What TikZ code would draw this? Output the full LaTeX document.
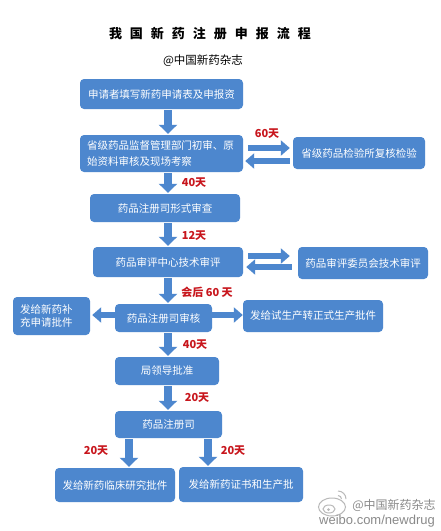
\documentclass[tikz,border=0pt]{standalone}
\usepackage{fontspec}
\newfontfamily\cjk{Noto Sans CJK SC}
\newfontfamily\wbfont{Liberation Sans}
\usetikzlibrary{arrows.meta}
\definecolor{boxblue}{HTML}{4D87CE}
\definecolor{lblred}{HTML}{C8161D}
\definecolor{wmgray}{HTML}{8A8A8A}
\tikzset{
  box/.style={fill=boxblue, rounded corners=4pt, text=white, inner sep=0pt, align=center,
    font=\cjk\fontsize{10.5}{13}\selectfont},
  lbl/.style={text=lblred, inner sep=0pt, font=\cjk\bfseries\fontsize{11}{13}\selectfont},
  vbar/.style={draw=boxblue, line width=8pt, -{Triangle[length=9pt,width=18pt]}, shorten <=1pt, shorten >=1pt},
  hbar/.style={draw=boxblue, line width=6pt, -{Triangle[length=9pt,width=15pt]}},
}
\begin{document}
\begin{tikzpicture}[x=1pt,y=-1pt]
\useasboundingbox (0,0) rectangle (440,531);
\fill[white] (0,0) rectangle (440,531);

% title
\node[font=\cjk\bfseries\fontsize{13}{15}\selectfont, inner sep=0pt] (title) at (210,34)
  {我\hspace{8pt}国\hspace{8pt}新\hspace{8pt}药\hspace{8pt}注\hspace{8pt}册\hspace{8pt}申\hspace{8pt}报\hspace{8pt}流\hspace{8pt}程};
\node[font=\cjk\fontsize{11.5}{13}\selectfont, inner sep=0pt] (sub) at (203,61) {@中国新药杂志};

% boxes
\node[box, minimum width=163pt, minimum height=30pt] (b1) at (161.5,94) {申请者填写新药申请表及申报资};
\node[box, minimum width=163pt, minimum height=37pt, text width=149pt, align=left,
  font=\cjk\fontsize{10.5}{15.5}\selectfont] (b2) at (161.5,153.5) {省级药品监督管理部门初审、原\\始资料审核及现场考察};
\node[box, minimum width=132pt, minimum height=32pt] (r1) at (359,153) {省级药品检验所复核检验};
\node[box, minimum width=150pt, minimum height=28pt] (b3) at (165,208) {药品注册司形式审查};
\node[box, minimum width=150pt, minimum height=30pt] (b4) at (168,262) {药品审评中心技术审评};
\node[box, minimum width=130pt, minimum height=32pt] (r2) at (363,263) {药品审评委员会技术审评};
\node[box, minimum width=97pt, minimum height=28pt] (b5) at (163.5,318) {药品注册司审核};
\node[box, minimum width=77pt, minimum height=38pt, text width=63pt, align=left,
  font=\cjk\fontsize{10.5}{13.5}\selectfont] (l1) at (51.5,316) {发给新药补\\充申请批件};
\node[box, minimum width=140pt, minimum height=32pt] (r3) at (313,316) {发给试生产转正式生产批件};
\node[box, minimum width=104pt, minimum height=28pt] (b6) at (167,371) {局领导批准};
\node[box, minimum width=107pt, minimum height=27pt] (b7) at (168.5,424.5) {药品注册司};
\node[box, minimum width=120pt, minimum height=34pt] (b8) at (115,485) {发给新药临床研究批件};
\node[box, minimum width=124pt, minimum height=35pt] (b9) at (241,484.5) {发给新药证书和生产批};

% arrow guide coordinates
\coordinate (ax) at (168,0);
\coordinate (axl) at (129,0);
\coordinate (axr) at (208,0);
\coordinate (ya) at (0,148);
\coordinate (yb) at (0,161);
\coordinate (yc) at (0,256);
\coordinate (yd) at (0,267);
\coordinate (ye) at (0,315);

% vertical arrows
\draw[vbar] (b1.south -| ax) -- (b2.north -| ax);
\draw[vbar] (b2.south -| ax) -- (b3.north -| ax);
\draw[vbar] (b3.south -| ax) -- (b4.north -| ax);
\draw[vbar] (b4.south -| ax) -- (b5.north -| ax);
\draw[vbar] (b5.south -| ax) -- (b6.north -| ax);
\draw[vbar] (b6.south -| ax) -- (b7.north -| ax);
\draw[vbar] (b7.south -| axl) -- (b8.north -| axl);
\draw[vbar] (b7.south -| axr) -- (b9.north -| axr);

% horizontal arrows
\draw[hbar, shorten <=5pt, shorten >=3pt] (b2.east |- ya) -- (r1.west |- ya);
\draw[hbar, shorten <=3pt, shorten >=2pt] (r1.west |- yb) -- (b2.east |- yb);
\draw[hbar, shorten <=5pt, shorten >=8pt] (b4.east |- yc) -- (r2.west |- yc);
\draw[hbar, shorten <=6pt, shorten >=3pt] (r2.west |- yd) -- (b4.east |- yd);
\draw[hbar, shorten <=0pt, shorten >=2pt] (b5.west |- ye) -- (l1.east |- ye);
\draw[hbar, shorten <=0pt, shorten >=0pt] (b5.east |- ye) -- (r3.west |- ye);

% labels
\node[lbl] (t60) at (267,134) {60天};
\node[lbl] (t40a) at (194,183) {40天};
\node[lbl] (t12) at (194,236) {12天};
\node[lbl] (th60) at (207,292) {会后 60 天};
\node[lbl] (t40b) at (195,345) {40天};
\node[lbl] (t20a) at (197,398) {20天};
\node[lbl] (t20b) at (96,451) {20天};
\node[lbl] (t20c) at (233,451) {20天};

% watermark
\begin{scope}[draw=wmgray!60, line width=1pt]
  \draw (332,507) ellipse (13.5 and 9);
  \draw (329,509) ellipse (6 and 4);
  \fill[wmgray!60] (328.5,509.5) circle (1.5);
  \draw (338,491) arc (-90:0:8);
  \draw (338,495.5) arc (-90:0:3.5);
\end{scope}
\node[font=\cjk\fontsize{12}{14}\selectfont, text=wmgray, inner sep=0pt] (wm1) at (394,505) {@中国新药杂志};
\node[font=\wbfont\fontsize{13}{15}\selectfont, text=wmgray, inner sep=0pt] (wm2) at (377,521) {weibo.com/newdrug};
\end{tikzpicture}
\end{document}
